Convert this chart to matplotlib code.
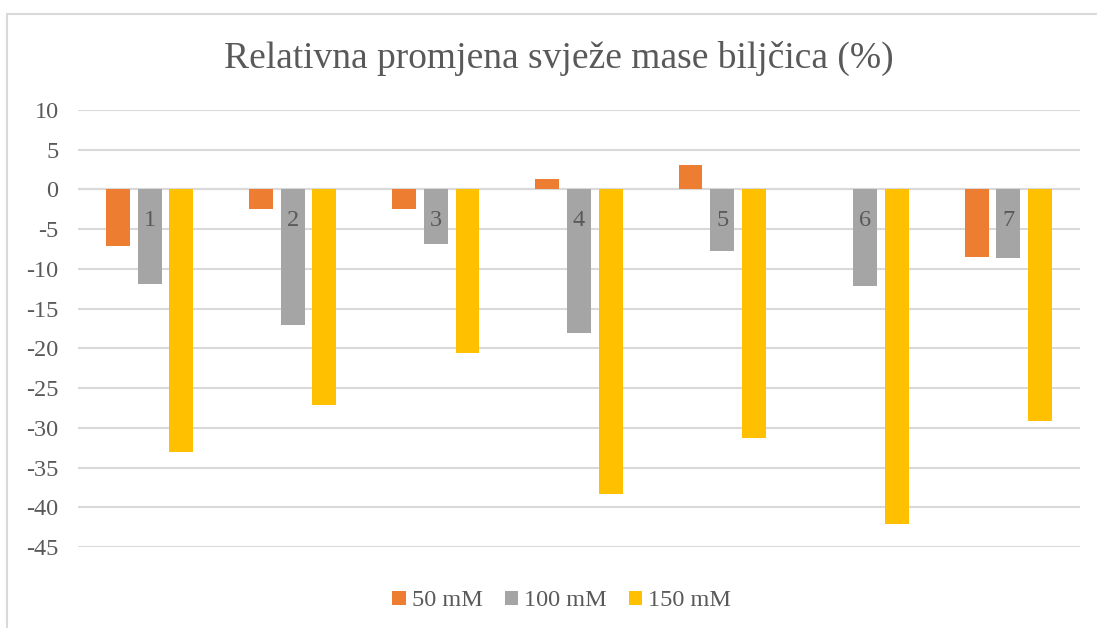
import matplotlib
matplotlib.use('Agg')
import matplotlib.pyplot as plt
from matplotlib.patches import Rectangle
import numpy as np

plt.rcParams.update({'font.family': ['Liberation Serif', 'DejaVu Serif'],
                     'font.size': 17.5, 'axes.unicode_minus': False})

categories = ['1', '2', '3', '4', '5', '6', '7']
series_names = ['50 mM', '100 mM', '150 mM']
v50 = [-7.1, -2.4, -2.4, 1.3, 3.1, 0.0, -8.5]
v100 = [-11.9, -17.1, -6.9, -18.1, -7.7, -12.2, -8.6]
v150 = [-33.1, -27.1, -20.6, -38.3, -31.3, -42.1, -29.2]
colors = ['#ED7D31', '#A5A5A5', '#FFC000']
text_col = '#595959'

fig = plt.figure(figsize=(10.97, 6.28), dpi=100)
ax = fig.add_axes([78 / 1097, 81 / 628, 1002 / 1097, 437 / 628])

# chart frame
fig.patches.append(Rectangle((7 / 1097, -0.05), 1.1, (628 - 14) / 628 + 0.05,
                             transform=fig.transFigure, fill=False,
                             edgecolor='#D9D9D9', linewidth=1.5))

x = np.arange(len(categories))
w = 0.167
step = 0.221
for k, vals in enumerate([v50, v100, v150]):
    ax.bar(x + (k - 1) * step, vals, w, color=colors[k], label=series_names[k],
           linewidth=0, zorder=3)

ax.set_xlim(-0.5, len(categories) - 0.5)
ax.set_ylim(-45, 10)
ax.set_yticks(np.arange(-45, 11, 5))
ax.yaxis.grid(True, color='#D9D9D9', linewidth=1.5, zorder=0)
ax.axhline(0, color='#D9D9D9', linewidth=1.5, zorder=1)
ax.set_xticks([])
for s in ax.spines.values():
    s.set_visible(False)
ax.tick_params(axis='y', length=0, pad=14, colors=text_col, labelsize=17.5)

for i, c in enumerate(categories):
    ax.annotate(c, (i, 0), xytext=(0, -22), textcoords='offset points',
                ha='center', va='center', fontsize=17.5, color=text_col, zorder=4)

fig.text(0.5 * (226 + 892) / 1097, 1 - 58 / 628,
         'Relativna promjena svježe mase biljčica (%)',
         ha='center', va='center', fontsize=27, color=text_col)

leg = fig.legend(loc='center', bbox_to_anchor=(0.512, 27 / 628), ncol=3,
                 frameon=False, fontsize=17.5, handlelength=0.55, handleheight=0.55,
                 handletextpad=0.25, columnspacing=0.9)
for t in leg.get_texts():
    t.set_color(text_col)

fig.savefig('out.png', dpi=100)
